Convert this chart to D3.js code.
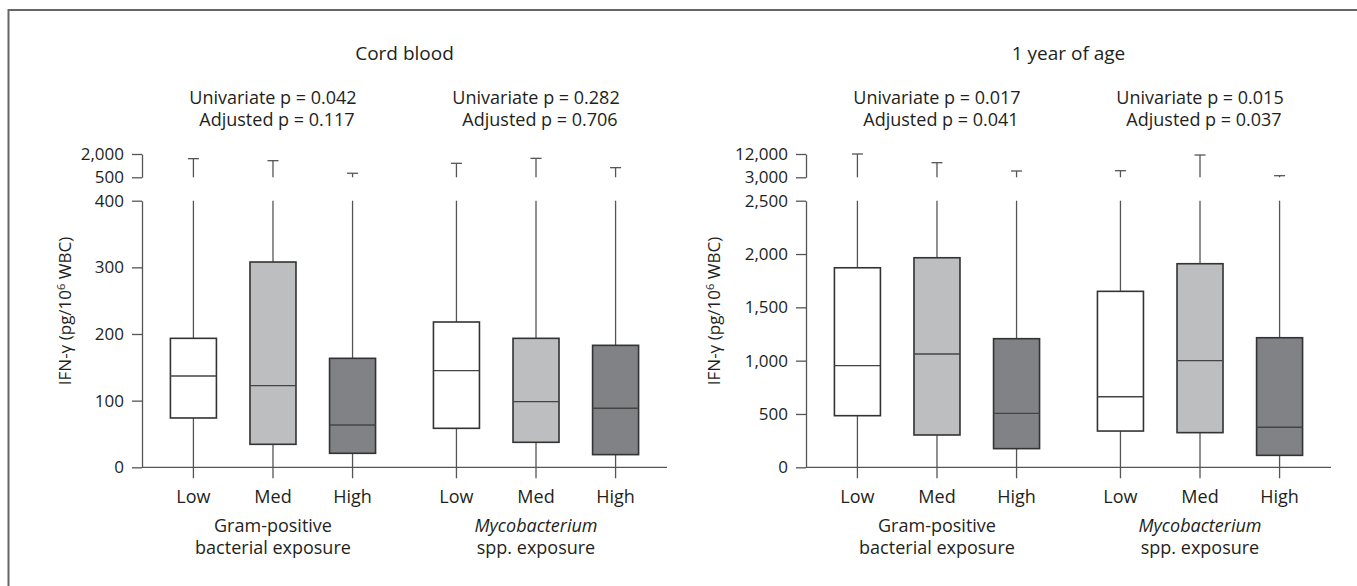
<!DOCTYPE html>
<html>
<head>
<meta charset="utf-8">
<script src="https://cdn.jsdelivr.net/npm/d3@7"></script>
<style>
  body { margin: 0; background: #fff; }
  svg text { font-family: "Open Sans", "Noto Sans", sans-serif; fill: #231f20; }
</style>
</head>
<body>
<svg class="graph" width="1357" height="586"></svg>
<script>
// categories
const levels = ["Low", "Med", "High"];
const groups = ["gram", "myco"];
const panelTitles = ["Cord blood", "1 year of age"];

// p-values per panel, per group
const univariateP = [["0.042", "0.282"], ["0.017", "0.015"]];
const adjustedP = [["0.117", "0.706"], ["0.041", "0.037"]];

// box stats, order: gram Low/Med/High, myco Low/Med/High
const cordMin = [0, 0, 0, 0, 0, 0];
const cordQ1 = [74, 34.5, 21, 58.5, 37.5, 19];
const cordMedian = [137, 122.5, 63.5, 145, 98.5, 88.5];
const cordQ3 = [193.5, 308, 163.5, 218, 193.5, 183];
const cordMax = [1700, 1570, 760, 1400, 1720, 1120];

const yearMin = [0, 0, 0, 0, 0, 0];
const yearQ1 = [484, 303, 175, 340, 325, 112];
const yearMedian = [953, 1062, 506, 662, 1000, 375];
const yearQ3 = [1871, 1965, 1206, 1650, 1909, 1215];
const yearMax = [12000, 8640, 5430, 5550, 11610, 3620];

// tick labels (split axis: lower and upper part)
const cordLowTicks = [0, 100, 200, 300, 400];
const cordHighTicks = [500, 2000];
const yearLowTicks = [0, 500, 1000, 1500, 2000, 2500];
const yearHighTicks = [3000, 12000];

const fills = { Low: "#ffffff", Med: "#bcbec0", High: "#808285" };

const svg = d3.select("svg.graph");

// outer frame (only top and left edges visible)
svg.append("path")
    .attr("d", "M8.5,586 V10 H1357")
    .attr("fill", "none")
    .attr("stroke", "#666")
    .attr("stroke-width", 2);

const fmt = d3.format(",");

function drawPanel(p, cfg) {
    const dx = cfg.dx;
    const g = svg.append("g").attr("transform", `translate(${dx},0)`);

    // x scales: groups, then levels inside a group
    const x0 = d3.scaleBand().domain(groups).range([142, 667])
        .paddingInner(0.395).paddingOuter(0.1955);
    const x1 = d3.scalePoint().domain(levels).range([0, x0.bandwidth()]);

    // y scales: broken axis
    const yLow = d3.scaleLinear().domain(cfg.lowDomain).range([467.3, 200.7]);
    const yHigh = d3.scaleLinear().domain(cfg.highDomain).range([177.3, 154]);

    // axes
    const axisStyle = sel => {
        sel.selectAll("path, line").attr("stroke", "#555").attr("stroke-width", 1.3);
        sel.selectAll("text").attr("font-size", 17).attr("fill", "#231f20");
        sel.attr("font-family", null);
    };
    g.append("g").attr("transform", "translate(142,0)")
        .call(d3.axisLeft(yLow).tickValues(cfg.lowTicks).tickSize(10).tickSizeOuter(0).tickPadding(8).tickFormat(fmt))
        .call(axisStyle);
    g.append("g").attr("transform", "translate(142,0)")
        .call(d3.axisLeft(yHigh).tickValues(cfg.highTicks).tickSize(10).tickSizeOuter(0).tickPadding(8).tickFormat(fmt))
        .call(axisStyle);

    // x axis line + ticks
    const xs = [];
    groups.forEach(gr => levels.forEach(l => xs.push(x0(gr) + x1(l))));
    g.append("line")
        .attr("x1", 142).attr("x2", 667)
        .attr("y1", yLow(0)).attr("y2", yLow(0))
        .attr("stroke", "#555").attr("stroke-width", 1.3);

    const stats = cfg.q1.map((d, i) => ({
        x: xs[i], level: levels[i % 3],
        min: cfg.min[i], q1: cfg.q1[i], med: cfg.median[i], q3: cfg.q3[i], max: cfg.max[i]
    }));

    const box = g.selectAll("g.box").data(stats).enter().append("g").attr("class", "box");

    // x tick (continues lower whisker below axis)
    box.append("line")
        .attr("x1", d => d.x).attr("x2", d => d.x)
        .attr("y1", yLow(0)).attr("y2", yLow(0) + 11)
        .attr("stroke", "#555").attr("stroke-width", 1.3);

    // whiskers
    box.append("line")
        .attr("x1", d => d.x).attr("x2", d => d.x)
        .attr("y1", d => yLow(d.min)).attr("y2", d => yLow(d.q1))
        .attr("stroke", "#555").attr("stroke-width", 1.3);
    box.append("line")
        .attr("x1", d => d.x).attr("x2", d => d.x)
        .attr("y1", d => yLow(d.q3)).attr("y2", yLow(cfg.lowDomain[1]))
        .attr("stroke", "#555").attr("stroke-width", 1.3);
    box.append("line")
        .attr("x1", d => d.x).attr("x2", d => d.x)
        .attr("y1", yHigh(cfg.highDomain[0])).attr("y2", d => yHigh(d.max))
        .attr("stroke", "#555").attr("stroke-width", 1.3);
    box.append("line")
        .attr("x1", d => d.x - 5.5).attr("x2", d => d.x + 5.5)
        .attr("y1", d => yHigh(d.max)).attr("y2", d => yHigh(d.max))
        .attr("stroke", "#555").attr("stroke-width", 1.3);

    // boxes
    box.append("rect")
        .attr("x", d => d.x - 23).attr("width", 46)
        .attr("y", d => yLow(d.q3)).attr("height", d => yLow(d.q1) - yLow(d.q3))
        .attr("fill", d => fills[d.level])
        .attr("stroke", "#333").attr("stroke-width", 1.6);
    box.append("line")
        .attr("x1", d => d.x - 23).attr("x2", d => d.x + 23)
        .attr("y1", d => yLow(d.med)).attr("y2", d => yLow(d.med))
        .attr("stroke", "#444").attr("stroke-width", 1.4);

    // level labels
    box.append("text")
        .attr("x", d => d.x).attr("y", 503)
        .attr("text-anchor", "middle").attr("font-size", 18)
        .text(d => d.level);

    // group labels
    const gramX = x0("gram") + x1("Med");
    const mycoX = x0("myco") + x1("Med");
    g.append("text").attr("x", gramX).attr("y", 532).attr("text-anchor", "middle")
        .attr("font-size", 18).text("Gram-positive");
    g.append("text").attr("x", gramX).attr("y", 554).attr("text-anchor", "middle")
        .attr("font-size", 18).text("bacterial exposure");
    g.append("text").attr("x", mycoX).attr("y", 532).attr("text-anchor", "middle")
        .attr("font-size", 18).attr("font-style", "italic").text("Mycobacterium");
    g.append("text").attr("x", mycoX).attr("y", 554).attr("text-anchor", "middle")
        .attr("font-size", 18).text("spp. exposure");

    // p-values
    [gramX, mycoX].forEach((cx, i) => {
        g.append("text").attr("x", cx).attr("y", 104).attr("text-anchor", "middle")
            .attr("font-size", 18).text(`Univariate p = ${univariateP[p][i]}`);
        g.append("text").attr("x", cx + 4).attr("y", 126).attr("text-anchor", "middle")
            .attr("font-size", 18).text(`Adjusted p = ${adjustedP[p][i]}`);
    });

    // title
    g.append("text").attr("x", (142 + 667) / 2).attr("y", 60).attr("text-anchor", "middle")
        .attr("font-size", 19).text(panelTitles[p]);

    // y label
    const yl = g.append("text")
        .attr("transform", `translate(${cfg.labelX},311) rotate(-90)`)
        .attr("text-anchor", "middle").attr("font-size", 17);
    yl.append("tspan").text("IFN-γ (pg/10");
    yl.append("tspan").attr("dy", -6).attr("font-size", 11).text("6");
    yl.append("tspan").attr("dy", 6).text(" WBC)");
}

drawPanel(0, {
    dx: 0, labelX: 71,
    lowDomain: [0, 400], highDomain: [500, 2000],
    lowTicks: cordLowTicks, highTicks: cordHighTicks,
    min: cordMin, q1: cordQ1, median: cordMedian, q3: cordQ3, max: cordMax
});
drawPanel(1, {
    dx: 664, labelX: 719.5 - 664,
    lowDomain: [0, 2500], highDomain: [3000, 12000],
    lowTicks: yearLowTicks, highTicks: yearHighTicks,
    min: yearMin, q1: yearQ1, median: yearMedian, q3: yearQ3, max: yearMax
});
</script>
</body>
</html>
